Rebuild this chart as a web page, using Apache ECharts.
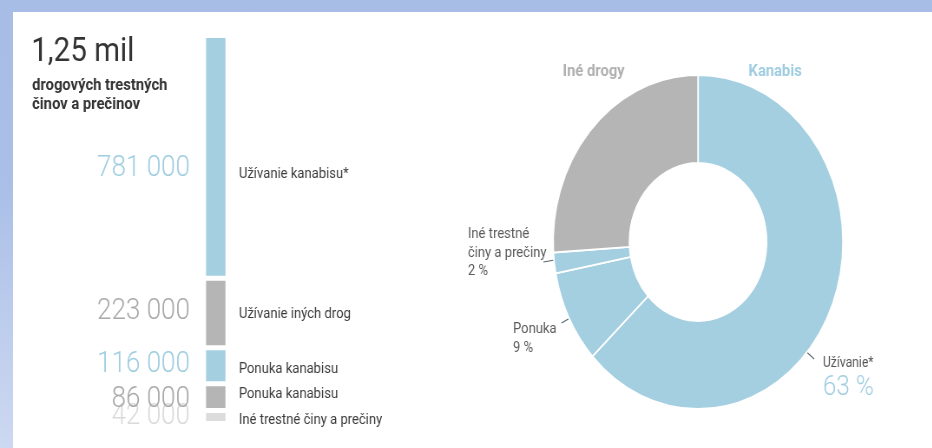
<!DOCTYPE html>
<html>
<head>
<meta charset="utf-8">
<script src="https://cdn.jsdelivr.net/npm/echarts@6/dist/echarts.min.js"></script>
<style>
  html, body { margin: 0; padding: 0; width: 932px; height: 448px; overflow: hidden;
    background: linear-gradient(#a7bde6, #a9bfe7 40%, #cdd8f1); }
  #panel { position: absolute; left: 13px; top: 12px; right: 0; bottom: 0; background: #fff; }
  /* the drawing is laid out wide and condensed horizontally */
  #chart { position: absolute; left: 0; top: 0; width: 1074px; height: 448px;
    transform: scaleX(0.868); transform-origin: 0 0; }
</style>
</head>
<body>
<div id="panel"></div>
<div id="chart"></div>
<script>
// Drug offences, stacked from the top of the column downwards
const offenceNames = ['Užívanie kanabisu*', 'Užívanie iných drog', 'Ponuka kanabisu', 'Ponuka kanabisu', 'Iné trestné činy a prečiny'];
const offenceCounts = [781000, 223000, 116000, 86000, 42000];
const offenceGroups = ['cannabis', 'other', 'cannabis', 'other', 'misc'];

// Donut breakdown in percent, clockwise from twelve o'clock
const shareNames = ['Užívanie*', 'Ponuka', 'Iné trestné\nčiny a prečiny', 'Iné drogy'];
const sharePercents = [63, 9, 2, 26];
const shareGroupsOf = ['cannabis', 'cannabis', 'cannabis', 'other'];
const shareHeaders = ['Iné drogy', 'Kanabis'];

const FONT = 'Roboto, "Noto Sans", sans-serif';
const fillColor = { cannabis: '#a3cfe0', other: '#b5b5b5', misc: '#dcdcdc' };
const numberColor = { cannabis: '#9fcde0', other: '#a9a9a9', misc: '#dadada' };

// vertical nudges of the text beside each column segment
const numberNudge = [12, -1, -1, 2, 0];
const nameNudge = [17, 1, 4, -3, 3];
// the smaller counts are drawn underneath the larger ones where they touch
const numberZ = [5, 5, 5, 6, 4];

const total = offenceCounts.reduce((a, b) => a + b, 0);
const fmtThousands = n => String(n).replace(/\B(?=(\d{3})+(?!\d))/g, ' ');
const fmtMillions = n => (n / 1e6).toFixed(2).replace('.', ',') + ' mil';

const barSeries = [];
offenceCounts.forEach((v, i) => {
  const g = offenceGroups[i];
  barSeries.push({
    type: 'bar', stack: 'fill', barWidth: '100%', barGap: '-100%',
    data: [v], z: numberZ[i],
    itemStyle: { color: fillColor[g], borderColor: '#fff', borderWidth: 2.5 },
    label: {
      show: true, position: 'left', distance: 16, offset: [0, numberNudge[i]],
      formatter: () => fmtThousands(v),
      fontFamily: FONT, fontSize: 30, fontWeight: 300, color: numberColor[g]
    },
    silent: true
  });
  barSeries.push({
    type: 'bar', stack: 'names', barWidth: '100%', barGap: '-100%',
    data: [v],
    itemStyle: { color: 'rgba(0,0,0,0)' },
    label: {
      show: true, position: 'right', distance: 13, offset: [0, nameNudge[i]],
      formatter: () => offenceNames[i],
      fontFamily: FONT, fontSize: 15, color: '#3c3c3c'
    },
    silent: true
  });
});

// where the donut labels sit (chart pixels)
const pieLabelAt = [
  { x: 948, y: 354 },
  { x: 591, y: 320 },
  { x: 539, y: 225 },
  null
];
const pieLabel = (i) => {
  if (i === 0) return '{n|' + shareNames[i] + '}\n{p|' + sharePercents[i] + ' %}';
  return shareNames[i].split('\n').map(s => '{m|' + s + '}').join('\n') + '\n{m|' + sharePercents[i] + ' %}';
};

const chart = echarts.init(document.getElementById('chart'), null, { renderer: 'canvas' });
chart.setOption({
  animation: false,
  grid: { left: 234.9, top: 35.5, width: 27.3, height: 388 },
  xAxis: { type: 'category', data: [''], show: false },
  yAxis: { type: 'value', inverse: true, min: 0, max: total, show: false },
  series: barSeries.concat([{
    type: 'pie',
    center: [804.2, 242],
    radius: [79, 167],
    startAngle: 90,
    clockwise: true,
    silent: true,
    data: sharePercents.map((v, i) => ({
      name: shareNames[i], value: v,
      itemStyle: { color: fillColor[shareGroupsOf[i]] },
      label: { show: pieLabelAt[i] !== null }
    })),
    itemStyle: { borderColor: '#fff', borderWidth: 1.8 },
    label: {
      position: 'outside',
      overflow: 'none',
      width: 160,
      formatter: p => pieLabel(p.dataIndex),
      rich: {
        n: { fontFamily: FONT, fontSize: 14, color: '#555', lineHeight: 18 },
        p: { fontFamily: FONT, fontSize: 28, fontWeight: 300, color: '#9fcde0', lineHeight: 32 },
        m: { fontFamily: FONT, fontSize: 15, color: '#5a5a5a', lineHeight: 18.5 }
      }
    },
    labelLine: { show: false },
    labelLayout: p => {
      const at = pieLabelAt[p.dataIndex];
      return at ? { x: at.x, y: at.y, align: 'left', verticalAlign: 'top' } : {};
    }
  }]),
  graphic: [
    { type: 'text', left: 36, top: 35, silent: true,
      style: { text: fmtMillions(total), font: '400 34px ' + FONT, fill: '#333' } },
    { type: 'text', left: 37, top: 76, silent: true,
      style: { text: 'drogových trestných\nčinov a prečinov', font: 'bold 17px ' + FONT, fill: '#333', lineHeight: 19 } },
    { type: 'text', x: 684, y: 72, silent: true,
      style: { text: shareHeaders[0], font: 'bold 17px ' + FONT, fill: '#b0b0b0', align: 'center', verticalAlign: 'middle' } },
    { type: 'text', x: 893, y: 72, silent: true,
      style: { text: shareHeaders[1], font: 'bold 17px ' + FONT, fill: '#9fcde0', align: 'center', verticalAlign: 'middle' } },
    // leader strokes from the labels into the slices
    { type: 'line', silent: true, shape: { x1: 918, y1: 343, x2: 938, y2: 359 }, style: { stroke: '#55636d', lineWidth: 1.1 } },
    { type: 'line', silent: true, shape: { x1: 647, y1: 323, x2: 672, y2: 310 }, style: { stroke: '#55636d', lineWidth: 1.1 } },
    { type: 'line', silent: true, shape: { x1: 626, y1: 262, x2: 652, y2: 258 }, style: { stroke: '#55636d', lineWidth: 1.1 } }
  ]
});
</script>
</body>
</html>
